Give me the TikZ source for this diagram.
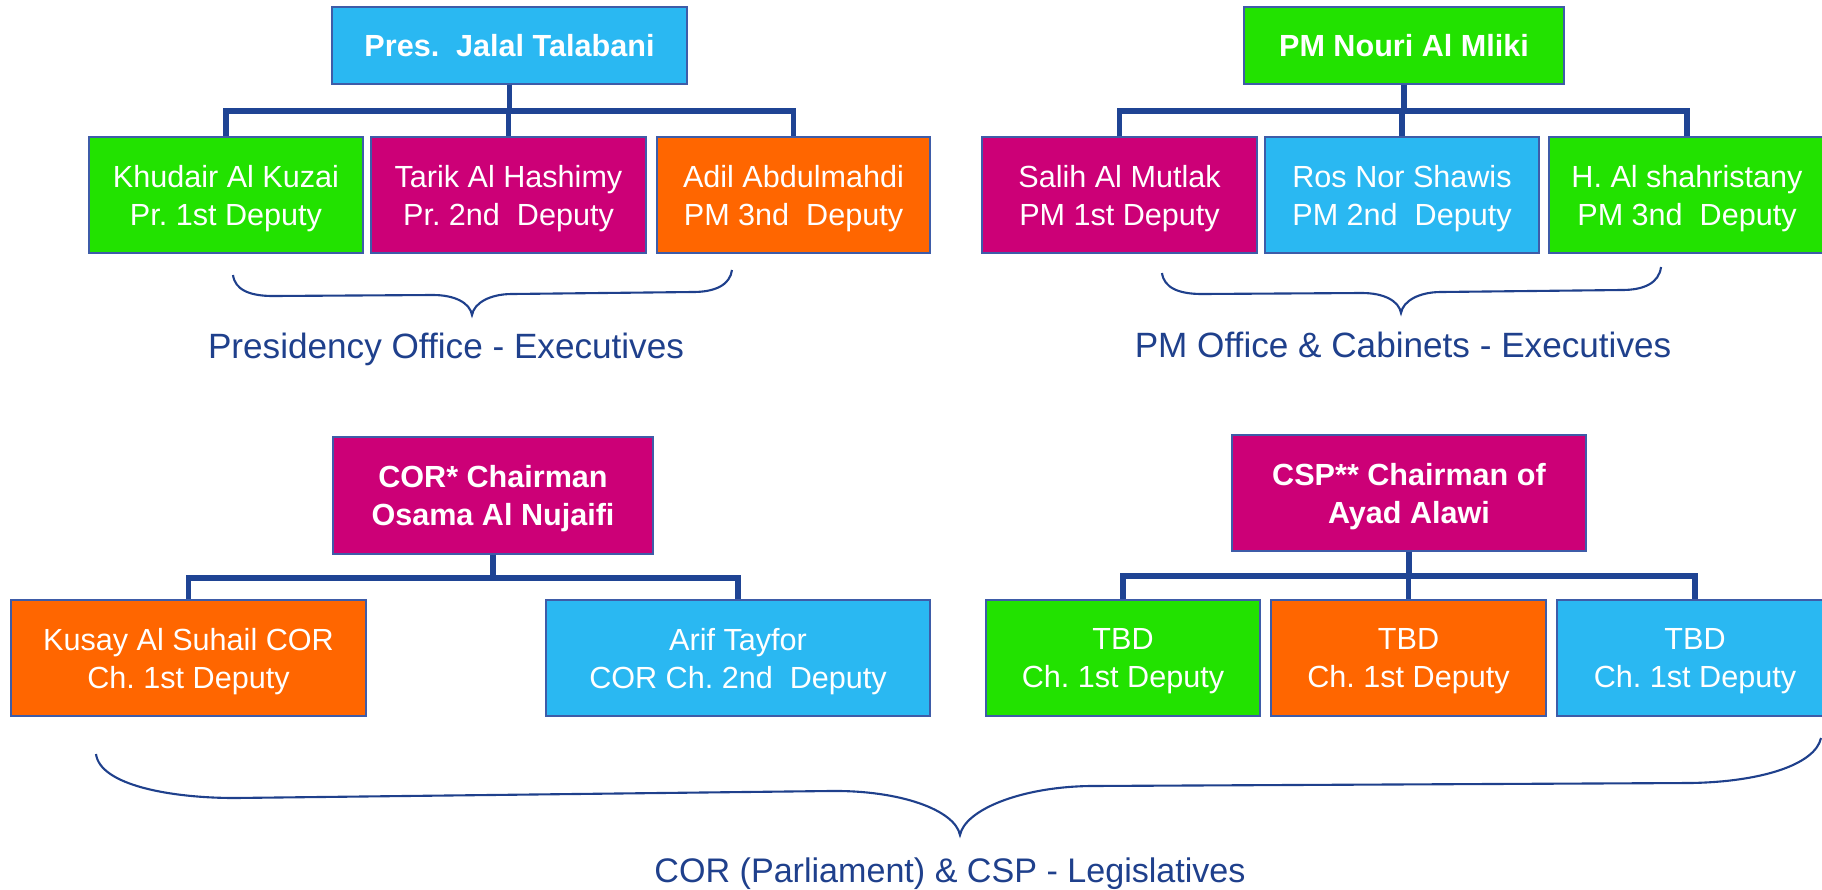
\documentclass[tikz,border=0pt]{standalone}
\usepackage{fontspec}
\setmainfont{Liberation Sans}
\frenchspacing

\definecolor{boxcyan}{RGB}{42,184,242}
\definecolor{boxgreen}{RGB}{34,226,0}
\definecolor{boxmagenta}{RGB}{204,0,119}
\definecolor{boxorange}{RGB}{255,102,0}
\definecolor{boxline}{RGB}{62,92,168}
\definecolor{busblue}{RGB}{31,68,148}
\definecolor{labelblue}{RGB}{31,64,140}

\tikzset{
    person/.style={draw=boxline, line width=0.4pt, inner sep=0pt, align=center, text depth=0pt,
        text=white, minimum height=1.16cm, font=\fontsize{8.7}{10.8}\selectfont},
    head/.style={person, font=\fontsize{8.7}{10.8}\selectfont\bfseries},
    bus/.style={draw=busblue, line width=1.6pt},
    curly/.style={draw=labelblue, line width=0.6pt},
    caption/.style={text=labelblue, anchor=base, inner sep=0pt, font=\fontsize{10}{12}\selectfont}
}

\begin{document}
\begin{tikzpicture}
    \useasboundingbox (0,0) rectangle (18.22,-8.89);

    % presidency office
    \node[head, fill=boxcyan, minimum width=3.55cm, minimum height=0.77cm] (pres) at (5.095,-0.455) {Pres.~~Jalal Talabani};
    \node[person, fill=boxgreen, minimum width=2.74cm] (khudair) at (2.26,-1.95) {Khudair Al Kuzai\\Pr. 1st Deputy};
    \node[person, fill=boxmagenta, minimum width=2.75cm] (tarik) at (5.085,-1.95) {Tarik Al Hashimy\\Pr. 2nd~~Deputy};
    \node[person, fill=boxorange, minimum width=2.73cm] (adil) at (7.935,-1.95) {Adil Abdulmahdi\\PM 3nd~~Deputy};

    \draw[bus] (pres.south) -- ++(0,-0.26) -| (khudair.north);
    \draw[bus] (pres.south) -- ++(0,-0.26) -| (tarik.north);
    \draw[bus] (pres.south) -- ++(0,-0.26) -| (adil.north);

    \draw[curly] (2.33,-2.75) .. controls (2.35,-2.90) and (2.50,-2.96) .. (2.73,-2.96) -- (4.33,-2.95)
        .. controls (4.55,-2.95) and (4.70,-3.03) .. (4.72,-3.15)
        .. controls (4.74,-3.03) and (4.90,-2.94) .. (5.12,-2.94) -- (6.93,-2.92)
        .. controls (7.15,-2.92) and (7.30,-2.85) .. (7.32,-2.70);
    \node[caption] (presoffice) at (4.46,-3.58) {Presidency Office - Executives};

    % pm office
    \node[head, fill=boxgreen, minimum width=3.20cm, minimum height=0.77cm] (pm) at (14.04,-0.455) {PM Nouri Al Mliki};
    \node[person, fill=boxmagenta, minimum width=2.75cm] (salih) at (11.195,-1.95) {Salih Al Mutlak\\PM 1st Deputy};
    \node[person, fill=boxcyan, minimum width=2.74cm] (ros) at (14.02,-1.95) {Ros Nor Shawis\\PM 2nd~~Deputy};
    \node[person, fill=boxgreen, minimum width=2.76cm] (shahristany) at (16.87,-1.95) {H. Al shahristany\\PM 3nd~~Deputy};

    \draw[bus] (pm.south) -- ++(0,-0.26) -| (salih.north);
    \draw[bus] (pm.south) -- ++(0,-0.26) -| (ros.north);
    \draw[bus] (pm.south) -- ++(0,-0.26) -| (shahristany.north);

    \draw[curly] (11.62,-2.73) .. controls (11.64,-2.88) and (11.79,-2.94) .. (12.02,-2.94) -- (13.62,-2.93)
        .. controls (13.84,-2.93) and (13.99,-3.01) .. (14.01,-3.13)
        .. controls (14.03,-3.01) and (14.19,-2.92) .. (14.41,-2.92) -- (16.22,-2.90)
        .. controls (16.44,-2.90) and (16.59,-2.83) .. (16.61,-2.67);
    \node[caption] (pmoffice) at (14.03,-3.57) {PM Office \& Cabinets - Executives};

    % parliament
    \node[head, fill=boxmagenta, minimum width=3.20cm, minimum height=1.17cm] (corchair) at (4.93,-4.955) {COR* Chairman\\Osama Al Nujaifi};
    \node[person, fill=boxorange, minimum width=3.55cm] (kusay) at (1.885,-6.58) {Kusay Al Suhail COR\\Ch. 1st Deputy};
    \node[person, fill=boxcyan, minimum width=3.84cm] (arif) at (7.38,-6.58) {Arif Tayfor\\COR Ch. 2nd~~Deputy};

    \draw[bus] (corchair.south) -- ++(0,-0.23) -| (kusay.north);
    \draw[bus] (corchair.south) -- ++(0,-0.23) -| (arif.north);

    % csp
    \node[head, fill=boxmagenta, minimum width=3.54cm] (cspchair) at (14.09,-4.93) {CSP** Chairman of\\Ayad Alawi};
    \node[person, fill=boxgreen, minimum width=2.74cm] (tbdone) at (11.23,-6.58) {TBD\\Ch. 1st Deputy};
    \node[person, fill=boxorange, minimum width=2.75cm] (tbdtwo) at (14.085,-6.58) {TBD\\Ch. 1st Deputy};
    \node[person, fill=boxcyan, minimum width=2.76cm] (tbdthree) at (16.95,-6.58) {TBD\\Ch. 1st Deputy};

    \draw[bus] (cspchair.south) -- ++(0,-0.24) -| (tbdone.north);
    \draw[bus] (cspchair.south) -- ++(0,-0.24) -| (tbdtwo.north);
    \draw[bus] (cspchair.south) -- ++(0,-0.24) -| (tbdthree.north);

    \draw[curly] (0.96,-7.54) .. controls (1.00,-7.85) and (1.70,-7.98) .. (2.35,-7.98) -- (8.30,-7.91)
        .. controls (9.00,-7.90) and (9.55,-8.10) .. (9.60,-8.35)
        .. controls (9.65,-8.10) and (10.20,-7.87) .. (10.90,-7.86) -- (16.90,-7.83)
        .. controls (17.60,-7.82) and (18.15,-7.65) .. (18.21,-7.38);
    \node[caption, font=\fontsize{9.7}{12}\selectfont] (legislatives) at (9.50,-8.82) {COR (Parliament) \& CSP - Legislatives};

\end{tikzpicture}
\end{document}
